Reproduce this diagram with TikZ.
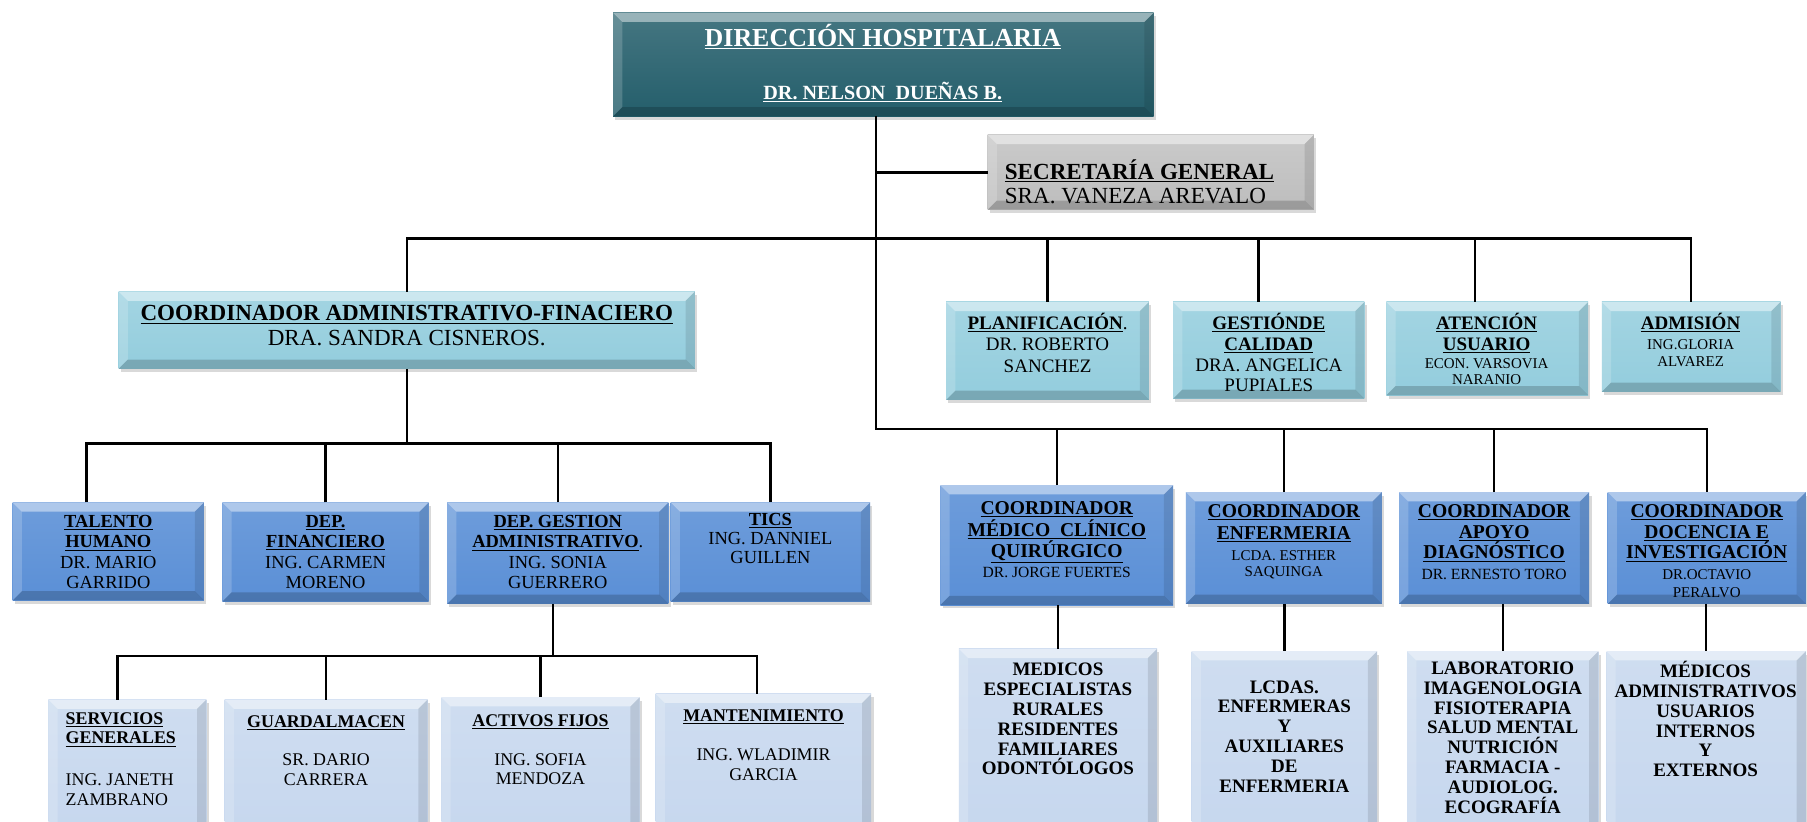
\documentclass[tikz,border=0pt]{standalone}
\usepackage{fontspec}
\setmainfont{Liberation Serif}
\usetikzlibrary{shadows}
\definecolor{dirC}{HTML}{245E6B}
\definecolor{secC}{HTML}{BDBDBD}
\definecolor{aquaC}{HTML}{93CDDD}
\definecolor{blueC}{HTML}{5A8FD6}
\definecolor{paleC}{HTML}{C6D7EE}
\lineskiplimit=-100pt
\newcommand\hd[1]{\textbf{\underline{#1}}}
\newcommand\bevelpic{%
  \path (path picture bounding box.north west) coordinate (bnw)
        (path picture bounding box.north east) coordinate (bne)
        (path picture bounding box.south west) coordinate (bsw)
        (path picture bounding box.south east) coordinate (bse);
  \fill[white,opacity=.45] (bnw) -- (bne) -- ([shift={(-8pt,-8pt)}]bne) -- ([shift={(8pt,-8pt)}]bnw) -- cycle;
  \fill[white,opacity=.18] (bnw) -- ([shift={(8pt,-8pt)}]bnw) -- ([shift={(8pt,8pt)}]bsw) -- (bsw) -- cycle;
  \fill[black,opacity=.10] (bne) -- ([shift={(-8pt,-8pt)}]bne) -- ([shift={(-8pt,8pt)}]bse) -- (bse) -- cycle;
  \fill[black,opacity=.18] (bsw) -- ([shift={(8pt,8pt)}]bsw) -- ([shift={(-8pt,8pt)}]bse) -- (bse) -- cycle;
}
\newcommand\obox[6]{\node[#2,minimum width={(#5-#3)*1pt},minimum height={(#6-#4)*1pt}] (#1) at (#3,#4) {};}
\begin{document}
\begin{tikzpicture}[x=1pt,y=-1pt,
  every node/.style={inner sep=0pt,outer sep=0pt},
  box/.style={anchor=north west,draw=none,drop shadow={shadow xshift=2pt,shadow yshift=-3pt,opacity=.3},path picture={\bevelpic}},
  dirbox/.style={box,top color=dirC!85!white,bottom color=dirC},
  secbox/.style={box,top color=secC!80!white,bottom color=secC},
  aquabox/.style={box,top color=aquaC!85!white,bottom color=aquaC},
  bluebox/.style={box,top color=blueC!88!white,bottom color=blueC},
  palebox/.style={box,top color=paleC!85!white,bottom color=paleC},
  conn/.style={draw=black,line width=2.1pt},
  tx/.style={align=center,text=black},
]
\useasboundingbox (0,0) rectangle (1568,713);
% boxes
\obox{dir}{dirbox}{532}{11}{1001}{101}
\obox{sec}{secbox}{857}{117}{1140}{182}
\obox{cadm}{aquabox}{103}{253}{603}{320}
\obox{pla}{aquabox}{821}{262}{997}{347}
\obox{gca}{aquabox}{1018}{262}{1184}{346}
\obox{ate}{aquabox}{1203}{262}{1378}{343}
\obox{adm}{aquabox}{1390}{262}{1545}{340}
\obox{tal}{bluebox}{11}{436}{177}{521}
\obox{fin}{bluebox}{193}{436}{372}{522}
\obox{gad}{bluebox}{388}{436}{580}{524}
\obox{tic}{bluebox}{582}{436}{755}{522}
\obox{mcq}{bluebox}{816}{421}{1018}{525}
\obox{enf}{bluebox}{1029}{427}{1199}{524}
\obox{apo}{bluebox}{1214}{427}{1379}{524}
\obox{doc}{bluebox}{1395}{427}{1567}{524}
\obox{ser}{palebox}{42}{607}{179}{730}
\obox{gua}{palebox}{195}{607}{371}{730}
\obox{act}{palebox}{383}{605}{555}{730}
\obox{man}{palebox}{569}{602}{756}{730}
\obox{med}{palebox}{832}{563}{1004}{730}
\obox{lcd}{palebox}{1034}{565}{1195}{730}
\obox{lab}{palebox}{1221}{565}{1387}{730}
\obox{mad}{palebox}{1394}{565}{1567}{730}
% texts
\node[tx,text=white,font=\fontsize{22.5}{46}\selectfont] (dir-t) at (766,55) {\hd{DIRECCIÓN HOSPITALARIA}\\{\fontsize{17.5}{46}\selectfont\hd{DR. NELSON\ \ DUEÑAS B.}}};
\node[tx,align=left,anchor=west,font=\fontsize{20}{21}\selectfont] (sec-t) at (872,157.5) {\hd{SECRETARÍA GENERAL}\\SRA. VANEZA AREVALO};
\node[tx,font=\fontsize{20}{21}\selectfont] (cadm-t) at (353,282.5) {\hd{COORDINADOR ADMINISTRATIVO-FINACIERO}\\DRA. SANDRA CISNEROS.};
\node[tx,font=\fontsize{16.5}{18.5}\selectfont] (pla-t) at (909,297.5) {\hd{PLANIFICACIÓN}.\\DR. ROBERTO\\SANCHEZ};
\node[tx,font=\fontsize{16.5}{18}\selectfont] (gca-t) at (1101,306) {\hd{GESTIÓNDE}\\\hd{CALIDAD}\\DRA. ANGELICA\\PUPIALES};
\node[tx,font=\fontsize{16.5}{18}\selectfont] (ate-t) at (1290,303) {\hd{ATENCIÓN}\\\hd{USUARIO}\\[-2pt]{\fontsize{13}{14}\selectfont ECON. VARSOVIA}\\[-4pt]{\fontsize{13}{14}\selectfont NARANIO}};
\node[tx,font=\fontsize{16.5}{15}\selectfont] (adm-t) at (1467,295) {\hd{ADMISIÓN}\\[2pt]{\fontsize{13}{15}\selectfont ING.GLORIA}\\{\fontsize{13}{15}\selectfont ALVAREZ}};
\node[tx,font=\fontsize{16}{17.5}\selectfont] (tal-t) at (94,479) {\hd{TALENTO}\\\hd{HUMANO}\\DR. MARIO\\GARRIDO};
\node[tx,font=\fontsize{16}{17.5}\selectfont] (fin-t) at (282.5,479) {\hd{DEP.}\\\hd{FINANCIERO}\\ING. CARMEN\\MORENO};
\node[tx,font=\fontsize{16}{17.5}\selectfont] (gad-t) at (484,479) {\hd{DEP. GESTION}\\\hd{ADMINISTRATIVO}.\\ING. SONIA\\GUERRERO};
\node[tx,font=\fontsize{16}{16.5}\selectfont] (tic-t) at (668.5,467.5) {\hd{TICS}\\ING. DANNIEL\\GUILLEN};
\node[tx,font=\fontsize{17}{18.5}\selectfont] (mcq-t) at (917,468.5) {\hd{COORDINADOR}\\\hd{MÉDICO\ \ CLÍNICO}\\\hd{QUIRÚRGICO}\\[-1pt]{\fontsize{13.5}{18}\selectfont DR. JORGE FUERTES}};
\node[tx,font=\fontsize{17}{18.5}\selectfont] (enf-t) at (1114,470) {\hd{COORDINADOR}\\\hd{ENFERMERIA}\\{\fontsize{13}{18}\selectfont LCDA. ESTHER}\\[-5pt]{\fontsize{13}{18}\selectfont SAQUINGA}};
\node[tx,font=\fontsize{17}{18}\selectfont] (apo-t) at (1296.5,470.5) {\hd{COORDINADOR}\\\hd{APOYO}\\\hd{DIAGNÓSTICO}\\{\fontsize{13.5}{18}\selectfont DR. ERNESTO TORO}};
\node[tx,font=\fontsize{17}{18}\selectfont] (doc-t) at (1481,478) {\hd{COORDINADOR}\\\hd{DOCENCIA E}\\\hd{INVESTIGACIÓN}\\{\fontsize{13}{18}\selectfont DR.OCTAVIO}\\[-3pt]{\fontsize{13}{18}\selectfont PERALVO}};
\node[tx,align=left,anchor=west,font=\fontsize{15.5}{17}\selectfont] (ser-t) at (57,658.5) {\hd{SERVICIOS}\\\hd{GENERALES}\\[19pt]ING. JANETH\\ZAMBRANO};
\node[tx,font=\fontsize{15.5}{17}\selectfont] (gua-t) at (283,651.5) {\hd{GUARDALMACEN}\\[16pt]SR. DARIO\\CARRERA};
\node[tx,font=\fontsize{15.5}{17}\selectfont] (act-t) at (469,650.5) {\hd{ACTIVOS FIJOS}\\[17pt]ING. SOFIA\\MENDOZA};
\node[tx,font=\fontsize{15.5}{17}\selectfont] (man-t) at (662.5,646.5) {\hd{MANTENIMIENTO}\\[17pt]ING. WLADIMIR\\GARCIA};
\node[tx,font=\fontsize{16.5}{17.2}\selectfont\bfseries] (med-t) at (918,624) {MEDICOS\\ESPECIALISTAS\\RURALES\\RESIDENTES\\FAMILIARES\\ODONTÓLOGOS};
\node[tx,font=\fontsize{16.5}{17.2}\selectfont\bfseries] (lcd-t) at (1114.5,639) {LCDAS.\\ENFERMERAS\\Y\\AUXILIARES\\DE\\ENFERMERIA};
\node[tx,font=\fontsize{16.5}{17.2}\selectfont\bfseries] (lab-t) at (1304,640) {LABORATORIO\\IMAGENOLOGIA\\FISIOTERAPIA\\SALUD MENTAL\\NUTRICIÓN\\FARMACIA -\\AUDIOLOG.\\ECOGRAFÍA};
\node[tx,font=\fontsize{16.5}{17.2}\selectfont\bfseries] (mad-t) at (1480,624) {MÉDICOS\\ADMINISTRATIVOS\\USUARIOS\\INTERNOS\\Y\\EXTERNOS};
% connector points
\coordinate (bus1) at (760,207);
\coordinate (bus2) at (760,372);
\coordinate (lbus) at (350,385);
\coordinate (bbus) at (480,569);
\coordinate (dtal) at (75,385);
\coordinate (dser) at (102,569);
\coordinate (dman) at (657,569);
\coordinate (dgca) at (1092,207);
\coordinate (date) at (1280,207);
% connectors
\draw[conn] (dir.south -| bus2) -- (bus2) -| (doc.north);
\draw[conn] (sec.west -| bus2) -- (sec.west);
\draw[conn] (cadm.north) |- (bus1) -- (bus1 -| adm.north) -- (adm.north);
\draw[conn] (pla.north) -- (pla.north |- bus1);
\draw[conn] (dgca |- gca.north) -- (dgca);
\draw[conn] (date |- ate.north) -- (date);
\draw[conn] (mcq.north) -- (mcq.north |- bus2);
\draw[conn] (enf.north) -- (enf.north |- bus2);
\draw[conn] (apo.north) -- (apo.north |- bus2);
\draw[conn] (cadm.south) -- (cadm.south |- lbus);
\draw[conn] (dtal |- tal.north) -- (dtal) -- (lbus -| tic.north) -- (tic.north);
\draw[conn] (fin.north) -- (fin.north |- lbus);
\draw[conn] (gad.north) -- (gad.north |- lbus);
\draw[conn] (bbus |- gad.south) -- (bbus);
\draw[conn] (dser |- ser.north) -- (dser) -- (dman) -- (dman |- man.north);
\draw[conn] (gua.north) -- (gua.north |- bbus);
\draw[conn] (act.north) -- (act.north |- bbus);
\draw[conn] (med.north |- mcq.south) -- (med.north);
\draw[conn] (lcd.north |- enf.south) -- (lcd.north);
\draw[conn] (lab.north |- apo.south) -- (lab.north);
\draw[conn] (mad.north |- doc.south) -- (mad.north);
\end{tikzpicture}
\end{document}
